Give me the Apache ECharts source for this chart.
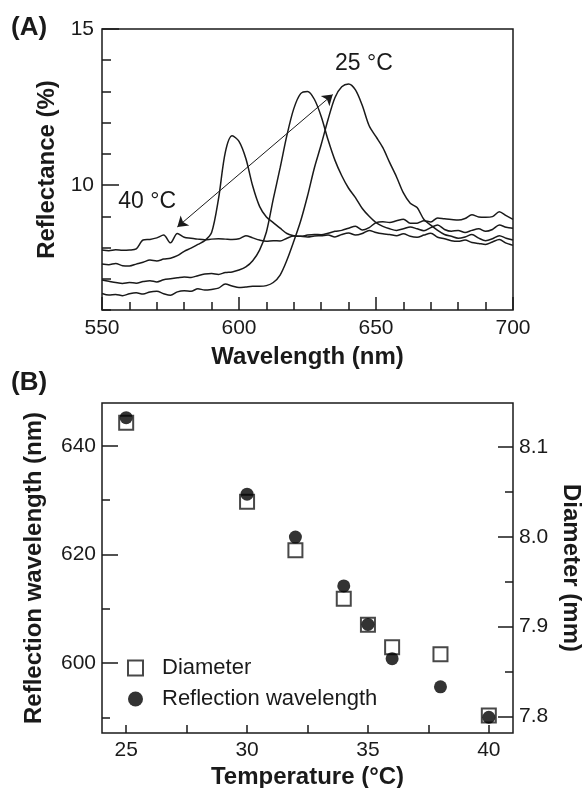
<!DOCTYPE html>
<html>
<head>
<meta charset="utf-8">
<title>Reflectance spectra and temperature dependence</title>
<script src="https://cdn.jsdelivr.net/npm/echarts@6/dist/echarts.min.js"></script>
<style>
  html, body { margin: 0; padding: 0; background: #fff; }
  #chart { width: 582px; height: 788px; }
</style>
</head>
<body>
<div id="chart"></div>
<script>
// ---- Panel A: reflectance spectra (wavelength grid, nm) ----
const wavelengths = [
  550, 552.5, 555, 557.5, 560, 562.5, 565, 567.5, 570, 572.5,
  575, 577.5, 580, 582.5, 585, 587.5, 590, 592.5, 595, 597.5,
  600, 602.5, 605, 607.5, 610, 612.5, 615, 617.5, 620, 622.5,
  625, 627.5, 630, 632.5, 635, 637.5, 640, 642.5, 645, 647.5,
  650, 652.5, 655, 657.5, 660, 662.5, 665, 667.5, 670, 672.5,
  675, 677.5, 680, 682.5, 685, 687.5, 690, 692.5, 695, 697.5, 700
];

// Reflectance (%) at 40 °C
const refl40C = [
  7.92, 7.90, 7.93, 7.91, 7.92, 7.96, 8.24, 8.26, 8.31, 8.40,
  8.15, 8.45, 8.33, 8.30, 8.27, 8.25, 8.27, 8.28, 8.27, 8.26,
  8.28, 8.38, 8.31, 8.24, 8.20, 8.22, 8.21, 8.30, 8.37, 8.36,
  8.40, 8.42, 8.41, 8.46, 8.52, 8.55, 8.62, 8.68, 8.56, 8.64,
  8.80, 8.83, 8.80, 8.86, 8.91, 8.78, 8.78, 8.86, 8.82, 8.95,
  8.92, 8.90, 8.88, 8.93, 9.05, 8.98, 8.97, 8.99, 9.15, 9.02, 8.90
];

// Reflectance (%), peak near 598 nm
const reflPeak598 = [
  7.47, 7.45, 7.49, 7.42, 7.41, 7.47, 7.53, 7.60, 7.57, 7.63,
  7.66, 7.74, 7.88, 7.98, 8.10, 8.22, 8.48, 9.55, 11.05, 11.58,
  11.40, 10.85, 9.97, 9.32, 8.98, 8.80, 8.62, 8.45, 8.38, 8.36,
  8.34, 8.37, 8.38, 8.40, 8.34, 8.42, 8.47, 8.40, 8.45, 8.55,
  8.48, 8.44, 8.42, 8.38, 8.44, 8.36, 8.33, 8.40, 8.46, 8.33,
  8.28, 8.22, 8.20, 8.24, 8.16, 8.13, 8.10, 8.18, 8.26, 8.14, 8.07
];

// Reflectance (%), peak near 624 nm
const reflPeak624 = [
  6.96, 6.92, 6.88, 6.85, 6.88, 6.86, 6.91, 6.94, 6.90, 6.97,
  7.00, 7.03, 7.06, 7.04, 7.10, 7.15, 7.17, 7.14, 7.20, 7.22,
  7.28, 7.38, 7.58, 7.92, 8.50, 9.55, 10.55, 11.60, 12.45, 12.93,
  13.00, 12.75, 12.20, 11.45, 10.80, 10.30, 9.90, 9.60, 9.25, 9.00,
  8.80, 8.68, 8.60, 8.55, 8.60, 8.66, 8.60, 8.54, 8.64, 8.72,
  8.58, 8.52, 8.55, 8.48, 8.55, 8.60, 8.52, 8.58, 8.72, 8.65, 8.62
];

// Reflectance (%) at 25 °C, peak near 640 nm
const refl25C = [
  6.53, 6.48, 6.50, 6.46, 6.52, 6.55, 6.51, 6.58, 6.60, 6.52,
  6.47, 6.58, 6.62, 6.60, 6.68, 6.64, 6.66, 6.70, 6.83, 6.77,
  6.72, 6.74, 6.76, 6.76, 6.78, 6.88, 7.12, 7.60, 8.20, 8.85,
  9.65, 10.55, 11.30, 12.10, 12.80, 13.15, 13.24, 13.05, 12.55, 11.90,
  11.55, 11.20, 10.72, 10.26, 9.75, 9.42, 9.28, 8.90, 8.72, 8.55,
  8.42, 8.36, 8.30, 8.34, 8.42, 8.30, 8.22, 8.28, 8.38, 8.30, 8.24
];

// Panel A axis labels and annotations (data coordinates)
const aXLabels = [550, 600, 650, 700];
const aYLabels = [10, 15];
const aYMajorTicks = [10, 15];
const shiftArrow = [[577.5, 8.66], [634.2, 12.90]];
const tempNotes = [
  { text: '25 °C', at: [645.6, 13.89] },
  { text: '40 °C', at: [566.5, 9.46] }
];

// ---- Panel B: peak wavelength and gel diameter versus temperature ----
const temperatures = [25, 30, 32, 34, 35, 36, 38, 40];
const reflectionWavelength = [645.2, 631.1, 623.2, 614.2, 607.1, 600.8, 595.6, 590.0];
const diameter = [8.127, 8.039, 7.985, 7.931, 7.902, 7.877, 7.869, 7.801];

const bXLabels = [25, 30, 35, 40];
const bXTicks = [25, 27.5, 30, 32.5, 35, 37.5, 40];
const bYLabels = [600, 620, 640];
const bYMinorTicks = [590, 610, 630];
const bY2Labels = [7.8, 7.9, 8.0, 8.1];
const bY2MinorTicks = [7.85, 7.95, 8.05];

// ---- styling ----
const INK = '#1a1a1a';
const FONT = '"Liberation Sans", Arial, Helvetica, sans-serif';
const tickStyle = { color: INK, width: 1.5 };
const labelStyle = { color: INK, fontFamily: FONT, fontSize: 21 };
const titleStyle = { color: INK, fontFamily: FONT, fontSize: 24, fontWeight: 'bold' };
const noSplit = { show: false };

const pairs = (xs, ys) => xs.map((x, i) => [x, ys[i]]);

function spectrum(name, values, extra) {
  return Object.assign({
    name: name,
    type: 'line',
    xAxisIndex: 0,
    yAxisIndex: 0,
    data: pairs(wavelengths, values),
    showSymbol: false,
    smooth: 0.3,
    silent: true,
    lineStyle: { color: INK, width: 1.5 },
    z: 3
  }, extra || {});
}

const chart = echarts.init(document.getElementById('chart'), null, { renderer: 'canvas' });

const option = {
  backgroundColor: '#fff',
  animation: false,
  textStyle: { fontFamily: FONT },
  grid: [
    { left: 102, top: 29, width: 411, height: 281, outerBoundsMode: 'none', show: true, borderColor: INK, borderWidth: 1.5, backgroundColor: 'transparent' },
    { left: 102, top: 403, width: 411, height: 330, outerBoundsMode: 'none', show: true, borderColor: INK, borderWidth: 1.5, backgroundColor: 'transparent' }
  ],
  graphic: [
    { type: 'text', left: 11, top: 15, style: { text: '(A)', font: 'bold 26px ' + FONT, fill: INK } },
    { type: 'text', left: 11, top: 370, style: { text: '(B)', font: 'bold 26px ' + FONT, fill: INK } }
  ],
  legend: {
    show: true,
    orient: 'vertical',
    left: 122,
    top: 652,
    itemWidth: 15,
    itemHeight: 15,
    itemGap: 9,
    data: ['Diameter', 'Reflection wavelength'],
    textStyle: { color: INK, fontFamily: FONT, fontSize: 22, lineHeight: 22, padding: [0, 0, 0, 14] },
    selectedMode: false
  },
  xAxis: [
    {
      gridIndex: 0, type: 'value', min: 550, max: 700, interval: 50,
      axisLine: { show: false },
      axisTick: { show: true, inside: true, length: 13, lineStyle: tickStyle },
      minorTick: { show: true, splitNumber: 5, length: 8, lineStyle: tickStyle },
      axisLabel: Object.assign({ margin: 8, customValues: aXLabels }, labelStyle),
      splitLine: noSplit, minorSplitLine: noSplit,
      name: 'Wavelength (nm)', nameLocation: 'middle', nameGap: 35, nameTextStyle: titleStyle
    },
    {
      gridIndex: 1, type: 'value', min: 24, max: 41,
      axisLine: { show: false },
      axisTick: { show: true, inside: true, length: 8, lineStyle: tickStyle, customValues: bXTicks },
      axisLabel: Object.assign({ margin: 7, customValues: bXLabels }, labelStyle),
      splitLine: noSplit,
      name: 'Temperature (°C)', nameLocation: 'middle', nameGap: 32, nameTextStyle: titleStyle
    }
  ],
  yAxis: [
    // 0: panel A, labelled axis with long ticks
    {
      gridIndex: 0, type: 'value', min: 6, max: 15, position: 'left',
      axisLine: { show: false },
      axisTick: { show: true, inside: true, length: 17, lineStyle: tickStyle, customValues: aYMajorTicks },
      axisLabel: Object.assign({ margin: 8, customValues: aYLabels }, labelStyle),
      splitLine: noSplit,
      name: 'Reflectance (%)', nameLocation: 'middle', nameRotate: 90, nameGap: 42, nameTextStyle: titleStyle
    },
    // 1: panel A, unit ticks
    {
      gridIndex: 0, type: 'value', min: 6, max: 15, interval: 1, position: 'left',
      axisLine: { show: false },
      axisTick: { show: true, inside: true, length: 9, lineStyle: tickStyle },
      axisLabel: { show: false },
      splitLine: noSplit
    },
    // 2: panel B, reflection wavelength (left)
    {
      gridIndex: 1, type: 'value', min: 587.1, max: 647.9, position: 'left',
      axisLine: { show: false },
      axisTick: { show: true, inside: true, length: 16, lineStyle: tickStyle, customValues: bYLabels },
      axisLabel: Object.assign({ margin: 6, customValues: bYLabels }, labelStyle),
      splitLine: noSplit,
      name: 'Reflection wavelength (nm)', nameLocation: 'middle', nameRotate: 90, nameGap: 56, nameTextStyle: titleStyle
    },
    // 3: panel B, left minor ticks
    {
      gridIndex: 1, type: 'value', min: 587.1, max: 647.9, position: 'left',
      axisLine: { show: false },
      axisTick: { show: true, inside: true, length: 8, lineStyle: tickStyle, customValues: bYMinorTicks },
      axisLabel: { show: false },
      splitLine: noSplit
    },
    // 4: panel B, diameter (right)
    {
      gridIndex: 1, type: 'value', min: 7.7814, max: 8.149, position: 'right',
      axisLine: { show: false },
      axisTick: { show: true, inside: true, length: 15, lineStyle: tickStyle, customValues: bY2Labels },
      axisLabel: Object.assign({ margin: 6, customValues: bY2Labels, formatter: v => Number(v).toFixed(1) }, labelStyle),
      splitLine: noSplit,
      name: 'Diameter (mm)', nameLocation: 'middle', nameRotate: -90, nameGap: 45, nameTextStyle: titleStyle
    },
    // 5: panel B, right minor ticks
    {
      gridIndex: 1, type: 'value', min: 7.7814, max: 8.149, position: 'right',
      axisLine: { show: false },
      axisTick: { show: true, inside: true, length: 8, lineStyle: tickStyle, customValues: bY2MinorTicks },
      axisLabel: { show: false },
      splitLine: noSplit
    }
  ],
  series: [
    spectrum('40 °C', refl40C, {
      markLine: {
        silent: true,
        symbol: ['arrow', 'arrow'],
        symbolSize: [10, 10],
        label: { show: false },
        lineStyle: { color: INK, width: 1, type: 'solid' },
        data: [[{ coord: shiftArrow[0] }, { coord: shiftArrow[1] }]]
      },
      markPoint: {
        silent: true,
        symbol: 'circle',
        symbolSize: 0,
        label: {
          show: true,
          position: 'inside',
          color: INK,
          fontFamily: FONT,
          fontSize: 23,
          formatter: p => p.name
        },
        data: tempNotes.map(n => ({ name: n.text, coord: n.at }))
      }
    }),
    spectrum('598 nm', reflPeak598),
    spectrum('624 nm', reflPeak624),
    spectrum('25 °C', refl25C),
    {
      name: 'Diameter',
      type: 'scatter',
      xAxisIndex: 1,
      yAxisIndex: 4,
      data: pairs(temperatures, diameter),
      symbol: 'rect',
      symbolSize: 14,
      itemStyle: { color: '#fff', borderColor: INK, borderWidth: 2 },
      z: 3
    },
    {
      name: 'Reflection wavelength',
      type: 'scatter',
      xAxisIndex: 1,
      yAxisIndex: 2,
      data: pairs(temperatures, reflectionWavelength),
      symbol: 'circle',
      symbolSize: 13,
      itemStyle: { color: '#000' },
      z: 4
    }
  ]
};

chart.setOption(option);
</script>
</body>
</html>
